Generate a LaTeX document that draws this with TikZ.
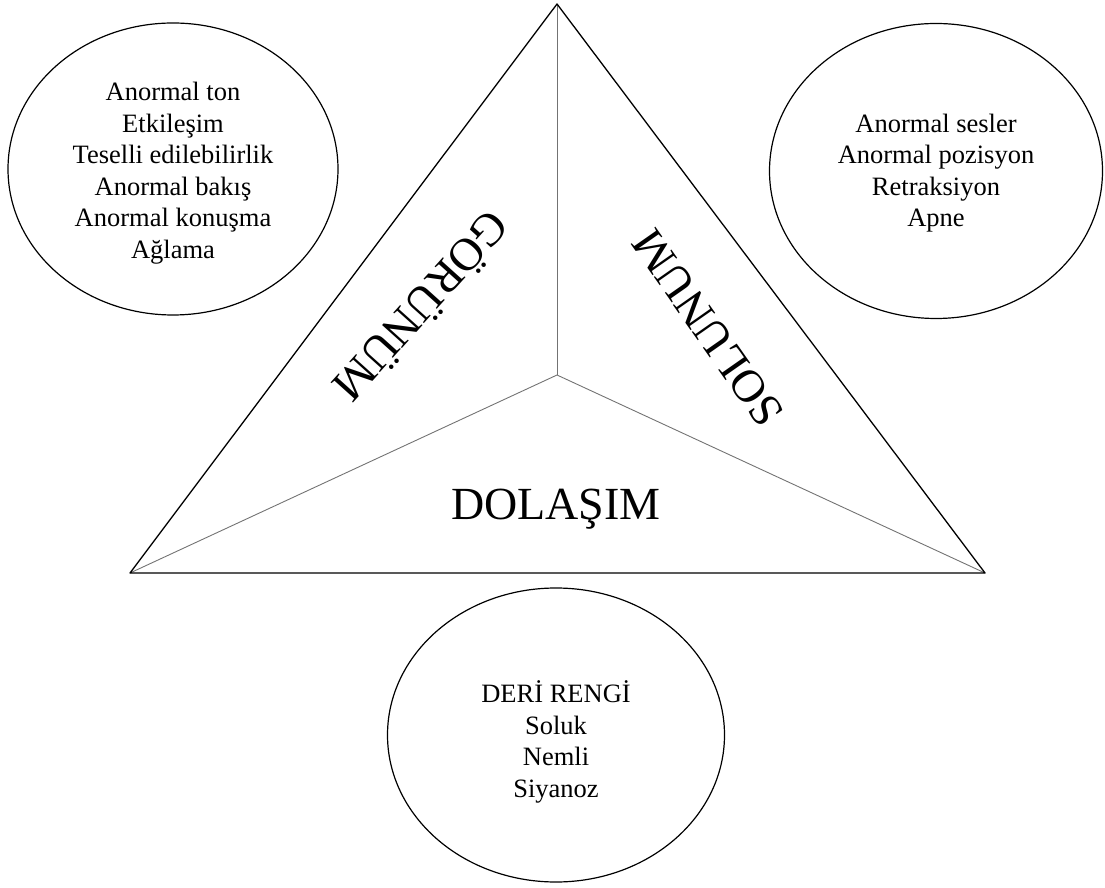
\documentclass[tikz,border=0pt]{standalone}
\usepackage{fontspec}
\setmainfont{Liberation Serif}
\usetikzlibrary{shapes.geometric}

\begin{document}
\begin{tikzpicture}[x=1pt, y=1pt,
  edge/.style={draw=black, line width=1.3pt, line join=round},
  spoke/.style={draw=black!55, line width=0.9pt},
  oval/.style={draw, ellipse, line width=1.2pt, inner sep=0pt},
  list text/.style={inner sep=0pt, align=center,
    font=\fontsize{26.5}{31.5}\selectfont},
  side label/.style={inner sep=0pt, font=\fontsize{46}{50}\selectfont}]

\useasboundingbox (0,0) rectangle (1105,887);

% triangle corners and middle
\coordinate (corner-t) at (557,883);
\coordinate (corner-l) at (130,314);
\coordinate (corner-r) at (985,314);
\coordinate (mid) at (557,512);

\foreach \c in {corner-t,corner-l,corner-r}
  \draw [spoke] (mid) -- (\c);

\draw [edge] (corner-t) -- (corner-l) -- (corner-r) -- cycle;

% the three sides
\node [side label, rotate=228] (gorunum) at (423,579) {GÖRÜNÜM};
\node [side label, rotate=125] (solunum) at (708,559) {SOLUNUM};
\node [side label] (dolasim) at (556,378) {DOLAŞIM};

% what belongs to each side
\node [oval, minimum width=330pt, minimum height=292pt] (gorunum-list) at (173,718) {};
\node [list text, yshift=-4pt] (gorunum-text) at (gorunum-list.center)
  {Anormal ton\\Etkileşim\\Teselli edilebilirlik\\Anormal bakış\\Anormal konuşma\\Ağlama};

\node [oval, minimum width=333pt, minimum height=295pt] (solunum-list) at (936,716) {};
\node [list text, yshift=-2pt] (solunum-text) at (solunum-list.center)
  {Anormal sesler\\Anormal pozisyon\\Retraksiyon\\Apne};

\node [oval, minimum width=337pt, minimum height=294pt] (dolasim-list) at (556,152) {};
\node [list text, yshift=-7pt] (dolasim-text) at (dolasim-list.center)
  {DERİ RENGİ\\Soluk\\Nemli\\Siyanoz};

\end{tikzpicture}
\end{document}
